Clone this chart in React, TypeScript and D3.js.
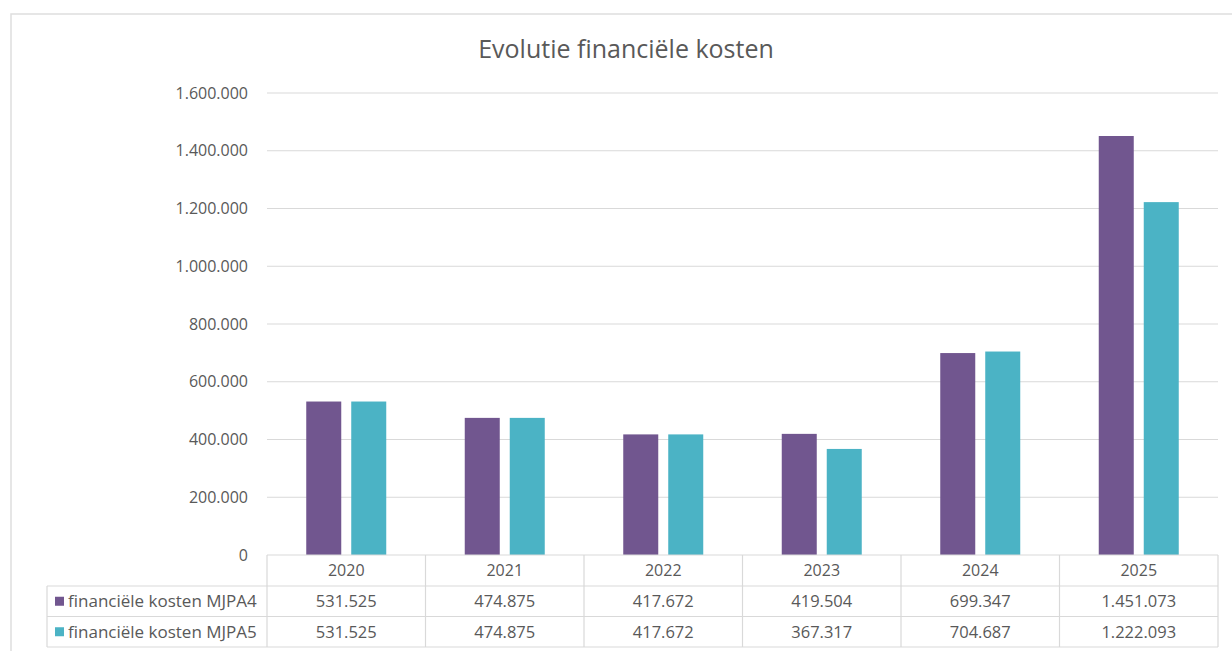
import React from "react";
import * as d3 from "d3";

const years = ["2020", "2021", "2022", "2023", "2024", "2025"];
const seriesNames = ["financiële kosten MJPA4", "financiële kosten MJPA5"];
const mjpa4 = [531525, 474875, 417672, 419504, 699347, 1451073];
const mjpa5 = [531525, 474875, 417672, 367317, 704687, 1222093];
const seriesValues = [mjpa4, mjpa5];
const seriesColors = ["#71568f", "#4bb3c5"];
const yTicks = [0, 200000, 400000, 600000, 800000, 1000000, 1200000, 1400000, 1600000];
const title = "Evolutie financiële kosten";

const W = 1232;
const H = 651;
const FONT = "'Open Sans', 'Noto Sans', sans-serif";
const TEXT = "#595959";
const GRID = "#d9d9d9";

const nl = d3.formatLocale({ decimal: ",", thousands: ".", grouping: [3], currency: ["€", ""] });
const fmt = nl.format(",d");

export default function App() {
  const plotLeft = 267;
  const plotRight = 1218;
  const plotTop = 93;
  const plotBottom = 555;
  const rowH = [31, 30.5, 30.5];
  const legendLeft = 47;

  const x = d3.scaleBand<string>().domain(years).range([plotLeft, plotRight]).paddingInner(0).paddingOuter(0);
  const bw = x.bandwidth();
  const groupW = 80;
  const xs = d3
    .scaleBand<string>()
    .domain(seriesNames)
    .range([(bw - groupW) / 2, (bw + groupW) / 2])
    .paddingInner(0.222)
    .paddingOuter(0);
  const y = d3.scaleLinear().domain([0, 1600000]).range([plotBottom, plotTop]);

  const rowTops = [plotBottom, plotBottom + rowH[0], plotBottom + rowH[0] + rowH[1]];
  const tableBottom = rowTops[2] + rowH[2];

  return (
    <svg
      width={W}
      height={H}
      style={{ position: "absolute", left: 0, top: 0, background: "#fff" }}
      fontFamily={FONT}
    >
      <rect x={0} y={0} width={W} height={H} fill="#fff" />
      {/* outer chart border */}
      <rect x={11} y={14} width={W + 20} height={H + 20} fill="none" stroke="#dedede" strokeWidth={1.5} />

      <text x={626} y={58} textAnchor="middle" fontSize={25} fill={TEXT}>
        {title}
      </text>

      {/* gridlines */}
      {yTicks.map((t) =>
        t === 0 ? null : (
          <line key={t} x1={plotLeft} x2={plotRight} y1={y(t)} y2={y(t)} stroke={GRID} strokeWidth={1.2} />
        )
      )}
      {/* tick labels */}
      {yTicks.map((t) => (
        <text key={"l" + t} x={248} y={y(t)} dy="0.35em" textAnchor="end" fontSize={16} fill={TEXT}>
          {fmt(t)}
        </text>
      ))}

      {/* bars */}
      {years.map((yr, i) => (
        <g key={yr} transform={`translate(${x(yr)},0)`}>
          {seriesNames.map((s, j) => {
            const v = seriesValues[j][i];
            return (
              <rect
                key={s}
                x={xs(s)}
                y={y(v)}
                width={xs.bandwidth()}
                height={y(0) - y(v)}
                fill={seriesColors[j]}
              />
            );
          })}
        </g>
      ))}

      {/* data table */}
      <g stroke={GRID} strokeWidth={1.2} fill="none">
        <line x1={plotLeft} x2={plotRight} y1={rowTops[0]} y2={rowTops[0]} />
        <line x1={legendLeft} x2={plotRight} y1={rowTops[1]} y2={rowTops[1]} />
        <line x1={legendLeft} x2={plotRight} y1={rowTops[2]} y2={rowTops[2]} />
        <line x1={legendLeft} x2={plotRight} y1={tableBottom} y2={tableBottom} />
        <line x1={legendLeft} x2={legendLeft} y1={rowTops[1]} y2={tableBottom} />
        {years.map((yr) => (
          <line key={yr} x1={x(yr)} x2={x(yr)} y1={rowTops[0]} y2={tableBottom} />
        ))}
        <line x1={plotRight} x2={plotRight} y1={rowTops[0]} y2={tableBottom} />
      </g>
      {years.map((yr) => (
        <text
          key={"h" + yr}
          x={(x(yr) as number) + bw / 2}
          y={rowTops[0] + rowH[0] / 2}
          dy="0.35em"
          textAnchor="middle"
          fontSize={16}
          fill={TEXT}
        >
          {yr}
        </text>
      ))}
      {seriesNames.map((s, j) => (
        <g key={"r" + s}>
          <rect x={55} y={rowTops[j + 1] + rowH[j + 1] / 2 - 4.5} width={9} height={9} fill={seriesColors[j]} />
          <text x={68} y={rowTops[j + 1] + rowH[j + 1] / 2} dy="0.35em" fontSize={17} fill={TEXT}>
            {s}
          </text>
          {years.map((yr, i) => (
            <text
              key={yr}
              x={(x(yr) as number) + bw / 2}
              y={rowTops[j + 1] + rowH[j + 1] / 2}
              dy="0.35em"
              textAnchor="middle"
              fontSize={16.5}
              fill={TEXT}
            >
              {fmt(seriesValues[j][i])}
            </text>
          ))}
        </g>
      ))}
    </svg>
  );
}
